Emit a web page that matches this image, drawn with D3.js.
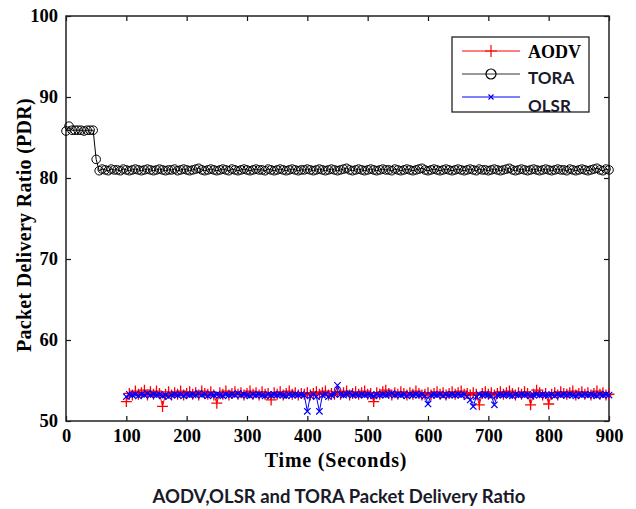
<!DOCTYPE html>
<html>
<head>
<meta charset="utf-8">
<script src="https://cdn.jsdelivr.net/npm/d3@7"></script>
<style>
  html, body { margin: 0; padding: 0; background: #ffffff; }
  svg { display: block; }
</style>
</head>
<body>
<svg id="chart" width="636" height="509"></svg>
<script>
// ---------------- DATA ----------------
const xTicks = [0, 100, 200, 300, 400, 500, 600, 700, 800, 900];
const yTicks = [50, 60, 70, 80, 90, 100];
const seriesNames = ["AODV", "TORA", "OLSR"];

// TORA sampled every 5 s from 0 to 900
const toraTimes = d3.range(0, 901, 5);
const toraValues = [
  85.8, 86.4, 85.9, 85.9, 85.9, 85.9, 85.8, 85.9, 85.9, 85.9,
  82.3, 80.9, 81.1, 81.0, 80.9, 81.1, 81.0, 81.0, 80.9, 81.1,
  81.0, 80.9, 81.0, 81.1, 81.0, 80.9, 81.0, 81.1, 81.0, 80.9,
  81.0, 81.1, 81.0, 80.9, 81.0, 81.0, 81.1, 80.9, 81.0, 81.1,
  81.0, 80.9, 81.0, 81.1, 81.2, 81.0, 80.9, 81.0, 81.1, 81.0,
  80.9, 81.0, 81.1, 81.0, 80.9, 81.1, 81.0, 80.9, 81.0, 81.1,
  81.0, 80.9, 81.0, 81.1, 81.0, 81.0, 80.9, 81.1, 81.0, 80.9,
  81.0, 81.1, 81.0, 80.9, 81.0, 81.1, 81.0, 80.9, 81.0, 81.0,
  81.1, 81.0, 80.9, 81.0, 81.1, 81.0, 80.9, 81.0, 81.1, 81.0,
  80.9, 81.0, 81.1, 81.2, 81.0, 80.9, 81.0, 81.1, 81.0, 80.9,
  81.0, 81.1, 81.0, 80.9, 81.0, 81.1, 81.0, 81.0, 80.9, 81.1,
  81.0, 80.9, 81.0, 81.1, 81.0, 80.9, 81.0, 81.1, 81.2, 81.0,
  80.9, 81.0, 81.1, 81.0, 80.9, 81.0, 81.1, 81.0, 80.9, 81.0,
  81.1, 81.0, 80.9, 81.0, 81.1, 81.0, 80.9, 81.1, 81.0, 81.0,
  80.9, 81.0, 81.1, 81.0, 80.9, 81.0, 81.1, 81.2, 81.0, 80.9,
  81.0, 81.1, 81.0, 80.9, 81.0, 81.1, 81.0, 80.9, 81.0, 81.1,
  81.0, 80.9, 81.0, 81.1, 81.0, 81.0, 80.9, 81.1, 81.0, 80.9,
  81.0, 81.1, 81.0, 80.9, 81.0, 81.1, 81.2, 81.0, 80.9, 81.1,
  81.0
];

// AODV and OLSR sampled every 5 s from 100 to 900
const manetTimes = d3.range(100, 901, 5);
const aodvValues = [
  52.4, 53.4, 53.2, 53.7, 53.3, 53.5, 53.8, 53.2, 53.6, 53.3,
  53.7, 53.4, 51.8, 53.3, 53.6, 53.2, 53.5, 53.3, 53.7, 53.2,
  53.4, 53.6, 53.3, 53.5, 53.2, 53.7, 53.4, 53.3, 53.6, 53.2,
  52.2, 53.5, 53.3, 53.7, 53.2, 53.4, 53.6, 53.3, 53.5, 53.2,
  53.4, 53.7, 53.3, 53.5, 53.2, 53.6, 53.3, 53.4, 52.6, 53.5,
  53.3, 53.6, 53.2, 53.4, 53.7, 53.3, 53.5, 53.2, 53.4, 53.3,
  53.5, 53.2, 53.4, 53.6, 53.3, 53.5, 53.7, 53.2, 53.4, 53.3,
  53.6, 53.3, 53.5, 53.7, 53.2, 53.4, 53.6, 53.3, 53.5, 53.7,
  53.3, 53.4, 52.4, 53.5, 53.3, 53.6, 53.8, 53.4, 53.2, 53.5,
  53.3, 53.6, 53.4, 53.2, 53.5, 53.3, 53.7, 53.4, 53.2, 53.3,
  53.5, 53.2, 53.4, 53.6, 53.3, 53.5, 53.2, 53.4, 53.6, 53.3,
  53.5, 53.7, 53.3, 53.4, 53.2, 53.5, 53.3, 52.0, 53.4, 53.6,
  53.3, 53.5, 53.2, 53.4, 53.6, 53.3, 53.5, 53.7, 53.4, 53.2,
  53.5, 53.3, 53.6, 53.4, 52.0, 53.3, 53.8, 53.5, 53.2, 53.4,
  52.1, 53.3, 53.5, 53.2, 53.6, 53.4, 53.3, 53.5, 53.7, 53.2,
  53.4, 53.6, 53.3, 53.5, 53.2, 53.4, 53.7, 53.3, 53.5, 53.2,
  53.3
];
const olsrValues = [
  53.0, 53.3, 53.2, 53.3, 53.1, 53.3, 53.2, 53.4, 53.2, 53.3,
  53.2, 53.3, 53.1, 53.2, 53.0, 53.2, 53.3, 53.2, 53.3, 53.1,
  53.3, 53.2, 53.3, 53.2, 53.4, 53.2, 53.3, 53.1, 53.3, 53.2,
  53.3, 53.2, 53.1, 53.3, 53.2, 53.3, 53.2, 53.4, 53.2, 53.3,
  53.2, 53.1, 53.3, 53.2, 53.3, 53.2, 53.1, 53.3, 53.2, 53.3,
  53.2, 53.3, 53.2, 53.1, 53.3, 53.2, 53.3, 53.2, 53.3, 53.2,
  51.2, 53.1, 53.3, 53.0, 51.2, 53.2, 53.3, 53.0, 53.2, 53.3,
  54.4, 53.3, 53.2, 53.3, 53.4, 53.2, 53.3, 53.2, 53.3, 53.2,
  53.3, 53.2, 53.1, 53.3, 53.2, 53.3, 53.2, 53.3, 53.4, 53.2,
  53.3, 53.2, 53.3, 53.1, 53.3, 53.2, 53.3, 53.2, 53.3, 53.1,
  52.1, 53.2, 53.3, 53.2, 53.3, 53.1, 53.3, 53.2, 53.3, 53.2,
  53.3, 53.2, 53.3, 53.0, 52.6, 51.8, 53.0, 53.3, 53.2, 53.3,
  53.2, 53.1, 52.0, 53.2, 53.3, 53.2, 53.3, 53.2, 53.1, 53.3,
  53.2, 53.3, 53.2, 53.3, 53.1, 53.2, 53.3, 53.2, 53.3, 53.2,
  53.2, 53.3, 53.1, 53.3, 53.2, 53.3, 53.2, 53.3, 53.2, 53.1,
  53.3, 53.2, 53.3, 53.2, 53.3, 53.2, 53.1, 53.3, 53.2, 53.3,
  53.2
];

// ---------------- DRAW ----------------
const svg = d3.select("#chart");
const plot = { left: 66, right: 609, top: 16, bottom: 421 };

const x = d3.scaleLinear().domain([0, 900]).range([plot.left, plot.right]);
const y = d3.scaleLinear().domain([50, 100]).range([plot.bottom, plot.top]);

const zip = (ts, vs) => vs.map((v, i) => ({ t: ts[i], v }));
const toraData = zip(toraTimes, toraValues);
const aodvData = zip(manetTimes, aodvValues);
const olsrData = zip(manetTimes, olsrValues);

const serif = "'Liberation Serif', 'DejaVu Serif', serif";
const sans = "Lato, 'Open Sans', sans-serif";

// axes (ticks inward)
const tickLen = 5;
svg.append("g").attr("transform", `translate(0,${plot.bottom})`)
  .call(d3.axisBottom(x).tickValues(xTicks).tickSize(-tickLen).tickPadding(8).tickFormat(d3.format("d")))
  .call(g => g.select(".domain").remove());
svg.append("g").attr("transform", `translate(0,${plot.top})`)
  .call(d3.axisTop(x).tickValues(xTicks).tickSize(-tickLen).tickFormat(""))
  .call(g => g.select(".domain").remove());
svg.append("g").attr("transform", `translate(${plot.left},0)`)
  .call(d3.axisLeft(y).tickValues(yTicks).tickSize(-tickLen).tickPadding(8).tickFormat(d3.format("d")))
  .call(g => g.select(".domain").remove());
svg.append("g").attr("transform", `translate(${plot.right},0)`)
  .call(d3.axisRight(y).tickValues(yTicks).tickSize(-tickLen).tickFormat(""))
  .call(g => g.select(".domain").remove());

svg.selectAll(".tick line").attr("stroke", "#111").attr("stroke-width", 1.2);
svg.selectAll(".tick text")
  .attr("font-family", serif).attr("font-weight", "bold")
  .attr("font-size", 18.5).attr("fill", "#000");

// frame
svg.append("rect")
  .attr("x", plot.left).attr("y", plot.top)
  .attr("width", plot.right - plot.left).attr("height", plot.bottom - plot.top)
  .attr("fill", "none").attr("stroke", "#222").attr("stroke-width", 1.5);

const line = d3.line().x(d => x(d.t)).y(d => y(d.v));

// TORA
svg.append("path").datum(toraData).attr("d", line)
  .attr("fill", "none").attr("stroke", "#000").attr("stroke-width", 1);
svg.append("g").selectAll("circle").data(toraData).join("circle")
  .attr("cx", d => x(d.t)).attr("cy", d => y(d.v)).attr("r", 4.3)
  .attr("fill", "none").attr("stroke", "#000").attr("stroke-width", 1);

// AODV
svg.append("path").datum(aodvData).attr("d", line)
  .attr("fill", "none").attr("stroke", "#ff0000").attr("stroke-width", 1);
const plusPath = s => `M${-s},0H${s}M0,${-s}V${s}`;
svg.append("g").selectAll("path").data(aodvData).join("path")
  .attr("transform", d => `translate(${x(d.t)},${y(d.v)})`)
  .attr("d", plusPath(5.5))
  .attr("fill", "none").attr("stroke", "#ff0000").attr("stroke-width", 1.3);

// OLSR
svg.append("path").datum(olsrData).attr("d", line)
  .attr("fill", "none").attr("stroke", "#0000ff").attr("stroke-width", 1);
const xPath = s => `M${-s},${-s}L${s},${s}M${-s},${s}L${s},${-s}`;
svg.append("g").selectAll("path").data(olsrData).join("path")
  .attr("transform", d => `translate(${x(d.t)},${y(d.v)})`)
  .attr("d", xPath(3.2))
  .attr("fill", "none").attr("stroke", "#0000ff").attr("stroke-width", 1.2);

// axis titles
svg.append("text").attr("x", 336).attr("y", 467)
  .attr("text-anchor", "middle").attr("font-family", serif)
  .attr("font-weight", "bold").attr("font-size", 20).attr("letter-spacing", 0.8)
  .text("Time (Seconds)");
svg.append("text")
  .attr("transform", "translate(31,225) rotate(-90)")
  .attr("text-anchor", "middle").attr("font-family", serif)
  .attr("font-weight", "bold").attr("font-size", 20).attr("letter-spacing", 0.3)
  .text("Packet Delivery Ratio (PDR)");

// legend
const lg = svg.append("g");
lg.append("rect").attr("x", 452).attr("y", 37).attr("width", 137).attr("height", 75)
  .attr("fill", "#fff").attr("stroke", "#222").attr("stroke-width", 1.3);
const legendItems = [
  { name: seriesNames[0], color: "#ff0000", ly: 51, ty: 58, font: serif, size: 18, tcolor: "#000" },
  { name: seriesNames[1], color: "#333", ly: 74, ty: 84, font: sans, size: 17, tcolor: "#1a1a2a" },
  { name: seriesNames[2], color: "#0000ff", ly: 97, ty: 112, font: sans, size: 17, tcolor: "#1a1a2a" }
];
legendItems.forEach((it, i) => {
  lg.append("line").attr("x1", 462).attr("x2", 520).attr("y1", it.ly).attr("y2", it.ly)
    .attr("stroke", it.color).attr("stroke-width", 1);
  if (i === 0) {
    lg.append("path").attr("transform", `translate(491,${it.ly})`).attr("d", plusPath(6))
      .attr("stroke", it.color).attr("stroke-width", 1.2);
  } else if (i === 1) {
    lg.append("circle").attr("cx", 491).attr("cy", it.ly).attr("r", 5)
      .attr("fill", "none").attr("stroke", "#000").attr("stroke-width", 1.2);
  } else {
    lg.append("path").attr("transform", `translate(491,${it.ly})`).attr("d", xPath(2.5))
      .attr("stroke", it.color).attr("stroke-width", 1.2);
  }
  lg.append("text").attr("x", 528).attr("y", it.ty)
    .attr("font-family", it.font).attr("font-weight", "bold")
    .attr("font-size", it.size).attr("fill", it.tcolor).text(it.name);
});

// caption
svg.append("text").attr("x", 339).attr("y", 503)
  .attr("text-anchor", "middle").attr("font-family", sans)
  .attr("font-weight", "bold").attr("font-size", 18.5).attr("fill", "#1a1a2a")
  .text("AODV,OLSR and TORA Packet Delivery Ratio");
</script>
</body>
</html>
